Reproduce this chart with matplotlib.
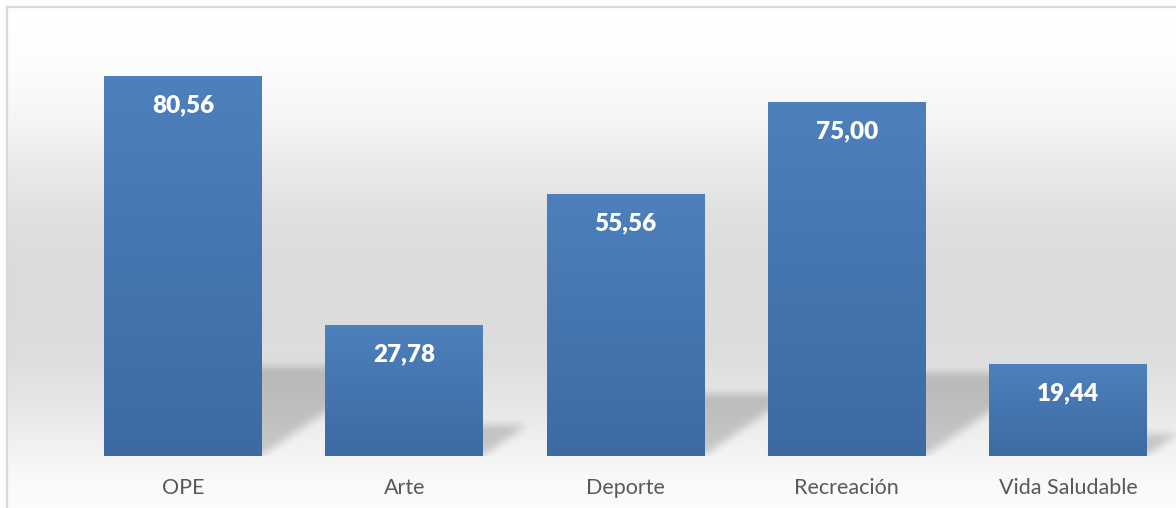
import numpy as np
import matplotlib
matplotlib.use("Agg")
import matplotlib.pyplot as plt
from matplotlib.path import Path
from matplotlib.lines import Line2D

categories = ["OPE", "Arte", "Deporte", "Recreación", "Vida Saludable"]
values = [80.56, 27.78, 55.56, 75.00, 19.44]

W, H = 1176, 508
fig = plt.figure(figsize=(W / 100, H / 100), dpi=100)

# ---- background gradient (figure level) ----
bg = fig.add_axes([0, 0, 1, 1], zorder=0)
bg.set_xlim(0, W)
bg.set_ylim(H, 0)
bg.axis("off")
stops_y = [6, 60, 110, 160, 210, 260, 310, 360, 410, 450, 480, 508]
stops_v = [255, 253, 247, 236, 225, 220, 219, 222, 232, 243, 249, 252]
yy = np.arange(6, H + 1)
gv = np.interp(yy, stops_y, stops_v) / 255.0
grad = np.repeat(gv[:, None, None], 3, axis=2)
bg.imshow(grad, extent=[6, W, H, 6], aspect="auto", interpolation="bilinear")
# border
bc = "#d9d9d9"
bg.add_line(Line2D([6.5, W], [6.5, 6.5], color=bc, lw=1.6))
bg.add_line(Line2D([6.5, 6.5], [6.5, H], color=bc, lw=1.6))

# ---- main axes ----
ax_l, ax_r = 72.4, 1178.6
ax_b, ax_t = 456.0, 31.5
ax = fig.add_axes([ax_l / W, (H - ax_b) / H, (ax_r - ax_l) / W, (ax_b - ax_t) / H], zorder=1)
ax.patch.set_alpha(0)
xlim = (-0.5, 4.5)
ylim = (0, 90)

x = np.arange(len(categories))
bw = 0.714
bars = ax.bar(x, values, width=bw, color="none", edgecolor="none", zorder=3)

# ---- shadows ----
nx, ny = 1106, 424
gx = np.linspace(xlim[0], xlim[1], nx)
gy = np.linspace(ylim[0], ylim[1], ny)
GX, GY = np.meshgrid(gx, gy)
pts = np.column_stack([GX.ravel(), GY.ravel()])
mask = np.zeros(GX.shape)
for rect in bars:
    xl = rect.get_x()
    xr = xl + rect.get_width()
    h = rect.get_height()
    hs = 0.235 * h
    s = 0.0072 * h
    poly = Path([(xl, 0), (xr, 0), (xr + s, hs), (xl + s, hs), (xl, 0)])
    m = poly.contains_points(pts).reshape(GX.shape)
    mask = np.maximum(mask, m.astype(float))

def gauss_blur(a, sigma):
    r = int(3 * sigma)
    k = np.exp(-0.5 * (np.arange(-r, r + 1) / sigma) ** 2)
    k /= k.sum()
    pad = np.pad(a, r, mode="edge")
    tmp = np.apply_along_axis(lambda v: np.convolve(v, k, mode="valid"), 1, pad)
    out = np.apply_along_axis(lambda v: np.convolve(v, k, mode="valid"), 0, tmp)
    return out

mask = gauss_blur(mask, 4.0)
rgba = np.zeros((ny, nx, 4))
rgba[..., 3] = mask * 0.18
ax.imshow(rgba, extent=[xlim[0], xlim[1], ylim[0], ylim[1]], origin="lower",
          aspect="auto", zorder=2, interpolation="bilinear")

# ---- bar gradients ----
top_c = np.array([77, 128, 188]) / 255.0
bot_c = np.array([61, 106, 163]) / 255.0
t = np.linspace(0, 1, 256)[:, None]
bar_grad = (bot_c[None, :] * (1 - t) + top_c[None, :] * t)[:, None, :]
for rect in bars:
    xl = rect.get_x()
    im = ax.imshow(bar_grad, extent=[xl, xl + rect.get_width(), 0, rect.get_height()],
                   origin="lower", aspect="auto", zorder=3, interpolation="bilinear")
    im.set_clip_path(rect)

# ---- value labels ----
for xi, v in zip(x, values):
    ax.annotate(f"{v:.2f}".replace(".", ","), xy=(xi, v), xytext=(0, -29 * 0.72),
                textcoords="offset points", ha="center", va="center",
                color="white", fontweight="heavy", fontsize=17.5, family="Lato", zorder=5)

ax.set_xlim(*xlim)
ax.set_ylim(*ylim)
ax.set_xticks(x)
ax.set_xticklabels(categories, fontsize=15.5, family="Lato", color="#595959")
ax.tick_params(axis="x", length=0, pad=16)
ax.set_yticks([])
for sp in ax.spines.values():
    sp.set_visible(False)

fig.savefig("out.png", dpi=100)
